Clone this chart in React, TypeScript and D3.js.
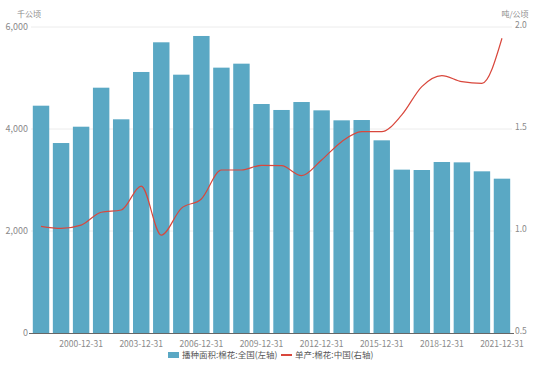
import React from "react";
import * as d3 from "d3";

const years = d3.range(1998, 2022).map(String);
const area = [4457, 3725, 4045, 4810, 4190, 5118, 5700, 5065, 5824, 5203, 5281, 4490, 4373, 4529, 4366, 4170, 4176, 3778, 3203, 3196, 3353, 3346, 3170, 3026];
const yieldVals = [1.023, 1.013, 1.029, 1.092, 1.103, 1.22, 0.98, 1.111, 1.157, 1.299, 1.299, 1.322, 1.32, 1.271, 1.348, 1.438, 1.487, 1.487, 1.569, 1.708, 1.762, 1.732, 1.724, 1.945];
const leftTicks = [0, 2000, 4000, 6000];
const rightTicks = [0.5, 1.0, 1.5, 2.0];
const xLabelIdx = [2, 5, 8, 11, 14, 17, 20, 23];
const seriesNames = ["播种面积:棉花:全国(左轴)", "单产:棉花:中国(右轴)"];

const W = 550, H = 365;
const L = 31, R = 512, T = 27, B = 333;
const FONT = "'Noto Sans CJK SC', 'Noto Sans', sans-serif";
const BAR = "#5aa8c4";
const LINE = "#d9473c";

export default function App() {
  const x = d3.scaleBand<string>().domain(years).range([L, R]).paddingInner(0.18).paddingOuter(0.09);
  const yL = d3.scaleLinear().domain([0, 6000]).range([B, T]);
  const yR = d3.scaleLinear().domain([0.5, 2.0]).range([B, T]);
  const cx = (i: number) => (x(years[i]) as number) + x.bandwidth() / 2;
  const line = d3.line<number>().x((_, i) => cx(i)).y((d) => yR(d)).curve(d3.curveMonotoneX);
  const fmt = d3.format(",");
  return (
    <svg width={W} height={H} style={{ position: "absolute", left: 0, top: 0 }} fontFamily={FONT}>
      <rect width={W} height={H} fill="#fff" />
      {leftTicks.slice(1).map((t) => (
        <line key={t} x1={L} x2={R} y1={yL(t)} y2={yL(t)} stroke="#ececec" strokeWidth={1} />
      ))}
      {area.map((v, i) => (
        <rect key={i} x={x(years[i])} y={yL(v)} width={x.bandwidth()} height={B - yL(v)} fill={BAR} />
      ))}
      <line x1={L - 2} x2={R + 2} y1={B + 0.5} y2={B + 0.5} stroke="#666" strokeWidth={1} />
      {leftTicks.map((t) => (
        <text key={t} x={28} y={yL(t)} dy="0.35em" textAnchor="end" fontSize={9} fill="#8a8a8a">{fmt(t)}</text>
      ))}
      {rightTicks.map((t) => (
        <text key={t} x={515} y={yR(t) - 2} dy="0.35em" textAnchor="start" fontSize={8.5} fill="#8a8a8a">{t.toFixed(1)}</text>
      ))}
      <text x={29} y={17} textAnchor="middle" fontSize={8} fill="#8a8a8a">千公顷</text>
      <text x={515} y={17} textAnchor="middle" fontSize={8} fill="#8a8a8a">吨/公顷</text>
      {xLabelIdx.map((i) => (
        <text key={i} x={cx(i)} y={347} textAnchor="middle" fontSize={8.5} fill="#8a8a8a">{years[i]}-12-31</text>
      ))}
      <path d={line(yieldVals) || ""} fill="none" stroke={LINE} strokeWidth={1.2} />
      <rect x={168} y={352} width={11} height={6} fill={BAR} />
      <text x={182} y={355} dy="0.35em" fontSize={8.5} fill="#555">{seriesNames[0]}</text>
      <line x1={281} x2={292} y1={355} y2={355} stroke={LINE} strokeWidth={2} />
      <text x={295} y={355} dy="0.35em" fontSize={8.5} fill="#555">{seriesNames[1]}</text>
    </svg>
  );
}
